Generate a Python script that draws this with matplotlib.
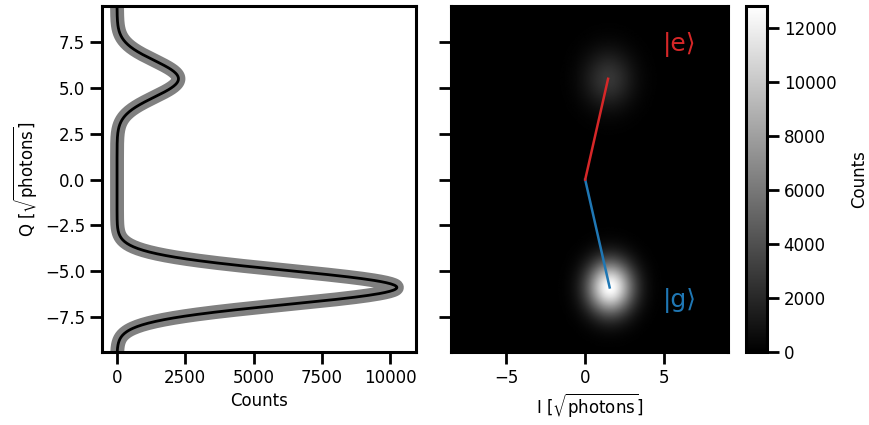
import numpy as np
import matplotlib
matplotlib.use("Agg")
import matplotlib.pyplot as plt

# fitted blob parameters (g first, e second)
state_labels = ["|g⟩", "|e⟩"]
state_colors = ["#1f77b4", "#d62728"]
centers_i = [1.55, 1.45]
centers_q = [-5.88, 5.5]
sigmas = [0.93, 1.0]            # widths in the 1D histogram
image_sigmas = [1.0, 1.1]       # widths in the 2D histogram
hist_peaks = [10250, 2250]      # 1D histogram peak counts
image_peaks = [12800, 2700]     # 2D histogram peak counts

i_range = [-8.5, 9.05]
q_range = [-9.4, 9.47]
hist_xticks = [0, 2500, 5000, 7500, 10000]
cbar_ticks = [0, 2000, 4000, 6000, 8000, 10000, 12000]
label_pos = [(6.0, -6.6), (6.0, 7.35)]

plt.rcParams.update({
    "font.size": 12,
    "axes.linewidth": 2.2,
    "xtick.major.size": 8.5,
    "ytick.major.size": 8.5,
    "xtick.major.width": 2.0,
    "ytick.major.width": 2.0,
    "xtick.labelsize": 12,
    "ytick.labelsize": 12,
    "axes.labelsize": 12,
})

q = np.linspace(q_range[0], q_range[1], 600)
hist = np.zeros_like(q)
for c, s, a in zip(centers_q, sigmas, hist_peaks):
    hist += a * np.exp(-(q - c) ** 2 / (2 * s ** 2))

ii = np.linspace(i_range[0], i_range[1], 300)
II, QQ = np.meshgrid(ii, q)
img = np.zeros_like(II)
for ci, cq, s, a in zip(centers_i, centers_q, image_sigmas, image_peaks):
    img += a * np.exp(-((II - ci) ** 2 + (QQ - cq) ** 2) / (2 * s ** 2))

fig = plt.figure(figsize=(8.69, 4.25), dpi=100)
ax1 = fig.add_axes([0.1174, 0.1718, 0.3613, 0.8141])
ax2 = fig.add_axes([0.519, 0.1718, 0.3188, 0.8141], sharey=ax1)
cax = fig.add_axes([0.8585, 0.1718, 0.0242, 0.8141])

# histogram along Q
ax1.plot(hist, q, color="grey", lw=10, solid_capstyle="round")
ax1.plot(hist, q, color="black", lw=2)
ax1.set_xlim(-550, 10950)
ax1.set_ylim(q_range)
ax1.set_xticks(hist_xticks)
ax1.set_xlabel("Counts")
ax1.set_ylabel(r"Q [$\sqrt{\mathrm{photons}}$]")

# 2D IQ histogram
im = ax2.imshow(img, origin="lower", cmap="gray", aspect="auto",
                extent=[i_range[0], i_range[1], q_range[0], q_range[1]],
                vmin=0, vmax=12800, interpolation="bilinear")
for ci, cq, col, lab, pos in zip(centers_i, centers_q, state_colors,
                                 state_labels, label_pos):
    ax2.plot([0, ci], [0, cq], color=col, lw=1.8)
    ax2.text(pos[0], pos[1], lab, color=col, fontsize=18,
             ha="center", va="center")
ax2.set_xlim(i_range)
ax2.set_xticks([-5, 0, 5])
ax2.tick_params(axis="y", labelleft=False)
ax2.set_xlabel(r"I [$\sqrt{\mathrm{photons}}$]")

cb = fig.colorbar(im, cax=cax)
cb.set_ticks(cbar_ticks)
cb.set_label("Counts", labelpad=10)
cb.outline.set_linewidth(2.2)

fig.savefig("out.png", dpi=100)
